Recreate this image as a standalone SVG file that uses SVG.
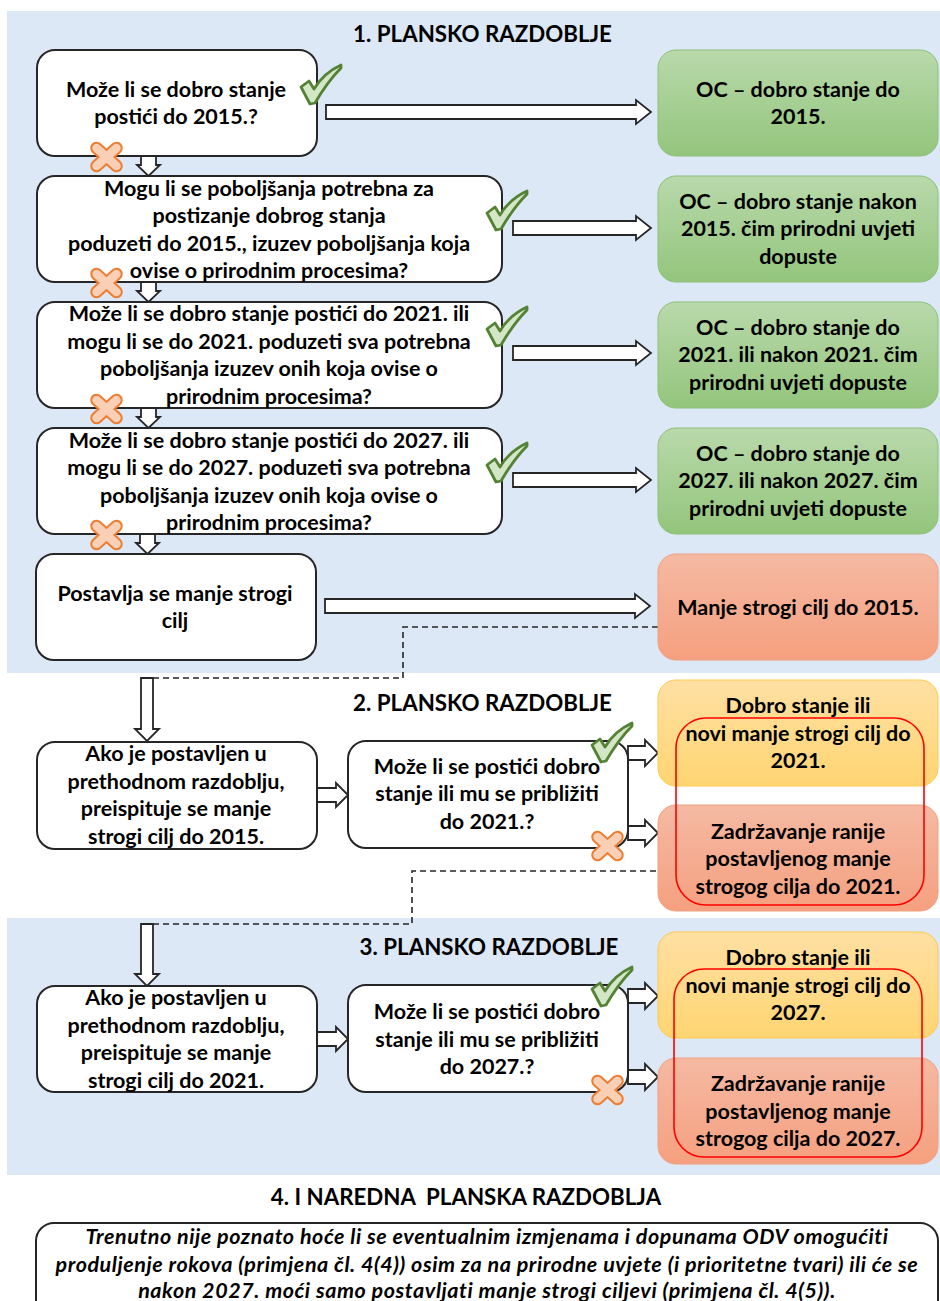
<svg xmlns="http://www.w3.org/2000/svg" width="940" height="1301" viewBox="0 0 940 1301">
<style>
text{font-family:Lato,"Liberation Sans",sans-serif;font-weight:700;font-size:21.5px;fill:#000;text-anchor:middle}
.t{font-size:22.3px}
.i{font-style:italic;letter-spacing:.55px}
.w{fill:#fff;stroke:#262626;stroke-width:2}
.g{fill:url(#gr);stroke:#8fbf77;stroke-width:1}
.r{fill:url(#re);stroke:#f0a080;stroke-width:1}
.y{fill:url(#ye);stroke:#ffc94d;stroke-width:1}
.a{fill:#fff;stroke:#262626;stroke-width:1.8;stroke-linejoin:miter}
.d{fill:none;stroke:#262626;stroke-width:1.6;stroke-dasharray:6 4}
.o{fill:none;stroke:#f00;stroke-width:1.6}
</style>
<defs>
<linearGradient id="gr" x1="0" y1="0" x2="0" y2="1"><stop offset="0" stop-color="#b9d9ab"/><stop offset="1" stop-color="#93c57c"/></linearGradient>
<linearGradient id="re" x1="0" y1="0" x2="0" y2="1"><stop offset="0" stop-color="#f5b9a3"/><stop offset="1" stop-color="#f5a07f"/></linearGradient>
<linearGradient id="ye" x1="0" y1="0" x2="0" y2="1"><stop offset="0" stop-color="#ffe0a3"/><stop offset="1" stop-color="#ffd572"/></linearGradient>
<g id="chk"><path d="M1 23 L9 17 L14 25 C20 15 30 6 41 1 L41 4 C32 13 22 27 15 39 L10 40 Z" fill="#d3e6c5" stroke="#548235" stroke-width="2.8" stroke-linejoin="round"/></g>
<g id="crs"><path d="M-10 -9 L10 9 M10 -9 L-10 9" fill="none" stroke="#ed7d31" stroke-width="12.500" stroke-linecap="round"/><path d="M-10 -9 L10 9 M10 -9 L-10 9" fill="none" stroke="#f9d0b5" stroke-width="8.500" stroke-linecap="round"/></g>
</defs>

<rect x="7" y="11" width="933" height="662" fill="#dce8f5"/>
<rect x="7" y="918" width="933" height="257" fill="#dce8f5"/>

<g id="connectors">
<path class="d" d="M658 627H403V678H147"/>
<path class="d" d="M676 871H412V924H147"/>
<path class="a" d="M326 105H636V100L651 112L636 124V119H326Z"/>
<path class="a" d="M513 221H636V216L651 228L636 240V235H513Z"/>
<path class="a" d="M513 346H636V341L651 353L636 365V360H513Z"/>
<path class="a" d="M513 473H636V468L651 480L636 492V487H513Z"/>
<path class="a" d="M325 599H635V594L650 606L635 618V613H325Z"/>
<path class="a" d="M141 156H156V165H160L148.500 176L137 165H141Z"/>
<path class="a" d="M141 282H156V291H160L148.500 302L137 291H141Z"/>
<path class="a" d="M141 408H156V417H160L148.500 428L137 417H141Z"/>
<path class="a" d="M140 534H155V543H159L147.500 554L136 543H140Z"/>
<path class="a" d="M141 678H153V729H159L147 741L135 729H141Z"/>
<path class="a" d="M141 924H153V974H159L147 986L135 974H141Z"/>
<path class="a" d="M317 788H336V783L348 795L336 807V802H317Z"/>
<path class="a" d="M317 1032H336V1027L348 1039L336 1051V1046H317Z"/>
<path class="a" d="M628 746H645V740L658 753L645 766V760H628Z"/>
<path class="a" d="M628 826H645V820L658 833L645 846V840H628Z"/>
<path class="a" d="M628 989H645V983L658 996L645 1009V1003H628Z"/>
<path class="a" d="M628 1070H645V1064L658 1077L645 1090V1084H628Z"/>
</g>

<g id="title1"><text class="t" x="482.500" y="42">1. PLANSKO RAZDOBLJE</text></g>
<g id="title2"><text class="t" x="482.500" y="711">2. PLANSKO RAZDOBLJE</text></g>
<g id="title3"><text class="t" x="489" y="955">3. PLANSKO RAZDOBLJE</text></g>
<g id="title4"><text class="t" x="466" y="1205">4. I NAREDNA&#160; PLANSKA RAZDOBLJA</text></g>

<g id="q1"><rect class="w" x="37" y="50" width="280" height="106" rx="18"/><text x="176" y="97">Može li se dobro stanje</text><text x="176" y="124">postići do 2015.?</text></g>
<g id="q2"><rect class="w" x="37" y="176" width="465" height="106" rx="18"/><text x="269" y="196">Mogu li se poboljšanja potrebna za</text><text x="269" y="223">postizanje dobrog stanja</text><text x="269" y="251">poduzeti do 2015., izuzev poboljšanja koja</text><text x="269" y="278">ovise o prirodnim procesima?</text></g>
<g id="q3"><rect class="w" x="37" y="302" width="465" height="106" rx="18"/><text x="269" y="321">Može li se dobro stanje postići do 2021. ili</text><text x="269" y="349">mogu li se do 2021. poduzeti sva potrebna</text><text x="269" y="376">poboljšanja izuzev onih koja ovise o</text><text x="269" y="404">prirodnim procesima?</text></g>
<g id="q4"><rect class="w" x="37" y="428" width="465" height="106" rx="18"/><text x="269" y="448">Može li se dobro stanje postići do 2027. ili</text><text x="269" y="475">mogu li se do 2027. poduzeti sva potrebna</text><text x="269" y="503">poboljšanja izuzev onih koja ovise o</text><text x="269" y="530">prirodnim procesima?</text></g>
<g id="q5"><rect class="w" x="36" y="554" width="280" height="106" rx="18"/><text x="175" y="601">Postavlja se manje strogi</text><text x="175" y="628">cilj</text></g>

<g id="oc1"><rect class="g" x="658" y="50" width="280" height="106" rx="18"/><text x="798" y="97">OC – dobro stanje do</text><text x="798" y="124">2015.</text></g>
<g id="oc2"><rect class="g" x="658" y="176" width="280" height="106" rx="18"/><text x="798" y="209">OC – dobro stanje nakon</text><text x="798" y="236">2015. čim prirodni uvjeti</text><text x="798" y="264">dopuste</text></g>
<g id="oc3"><rect class="g" x="658" y="302" width="280" height="106" rx="18"/><text x="798" y="335">OC – dobro stanje do</text><text x="798" y="362">2021. ili nakon 2021. čim</text><text x="798" y="390">prirodni uvjeti dopuste</text></g>
<g id="oc4"><rect class="g" x="658" y="428" width="280" height="106" rx="18"/><text x="798" y="461">OC – dobro stanje do</text><text x="798" y="488">2027. ili nakon 2027. čim</text><text x="798" y="516">prirodni uvjeti dopuste</text></g>
<g id="lsg"><rect class="r" x="658" y="554" width="280" height="106" rx="18"/><text x="798" y="615">Manje strogi cilj do 2015.</text></g>

<g id="p2left"><rect class="w" x="37" y="742" width="280" height="107" rx="18"/><text x="176" y="761">Ako je postavljen u</text><text x="176" y="789">prethodnom razdoblju,</text><text x="176" y="816">preispituje se manje</text><text x="176" y="844">strogi cilj do 2015.</text></g>
<g id="p2mid"><rect class="w" x="348" y="741" width="280" height="107" rx="18"/><text x="487" y="774">Može li se postići dobro</text><text x="487" y="801">stanje ili mu se približiti</text><text x="487" y="829">do 2021.?</text></g>
<g id="p2good"><rect class="y" x="658" y="680" width="280" height="106" rx="18"/></g>
<g id="p2keep"><rect class="r" x="658" y="805" width="280" height="106" rx="18"/></g>
<g id="p2ring"><rect class="o" x="676" y="718" width="248" height="187" rx="30"/><text x="798" y="713">Dobro stanje ili</text><text x="798" y="741">novi manje strogi cilj do</text><text x="798" y="768">2021.</text><text x="798" y="839">Zadržavanje ranije</text><text x="798" y="866">postavljenog manje</text><text x="798" y="894">strogog cilja do 2021.</text></g>

<g id="p3left"><rect class="w" x="37" y="986" width="280" height="106" rx="18"/><text x="176" y="1005">Ako je postavljen u</text><text x="176" y="1033">prethodnom razdoblju,</text><text x="176" y="1060">preispituje se manje</text><text x="176" y="1088">strogi cilj do 2021.</text></g>
<g id="p3mid"><rect class="w" x="348" y="985" width="280" height="107" rx="18"/><text x="487" y="1019">Može li se postići dobro</text><text x="487" y="1047">stanje ili mu se približiti</text><text x="487" y="1074">do 2027.?</text></g>
<g id="p3good"><rect class="y" x="658" y="932" width="280" height="106" rx="18"/></g>
<g id="p3keep"><rect class="r" x="658" y="1058" width="280" height="106" rx="18"/></g>
<g id="p3ring"><rect class="o" x="674" y="969" width="248" height="188" rx="30"/><text x="798" y="965">Dobro stanje ili</text><text x="798" y="993">novi manje strogi cilj do</text><text x="798" y="1020">2027.</text><text x="798" y="1091">Zadržavanje ranije</text><text x="798" y="1119">postavljenog manje</text><text x="798" y="1146">strogog cilja do 2027.</text></g>

<g id="note"><rect class="w" x="36" y="1223" width="902" height="100" rx="18"/><text class="i" x="487" y="1244">Trenutno nije poznato hoće li se eventualnim izmjenama i dopunama ODV omogućiti</text><text class="i" x="487" y="1272">produljenje rokova (primjena čl. 4(4)) osim za na prirodne uvjete (i prioritetne tvari) ili će se</text><text class="i" x="487" y="1298">nakon 2027. moći samo postavljati manje strogi ciljevi (primjena čl. 4(5)).</text></g>

<g id="yes-marks">
<use href="#chk" x="300" y="64"/><use href="#chk" x="486" y="190"/><use href="#chk" x="486" y="306"/><use href="#chk" x="486" y="442"/><use href="#chk" x="591" y="722"/><use href="#chk" x="591" y="966"/>
</g>
<g id="no-marks">
<use href="#crs" x="106.500" y="157"/><use href="#crs" x="106.500" y="283"/><use href="#crs" x="106.500" y="409"/><use href="#crs" x="106.500" y="535"/><use href="#crs" x="607.500" y="846"/><use href="#crs" x="607.500" y="1090"/>
</g>
</svg>
